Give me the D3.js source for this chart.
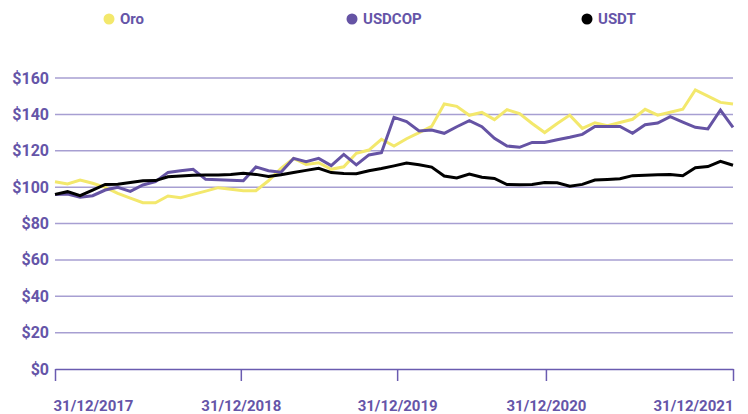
<!DOCTYPE html>
<html>
<head>
<meta charset="utf-8">
<script src="https://cdn.jsdelivr.net/npm/d3@7"></script>
<style>
  body { margin: 0; background: #fff; }
  #chart { width: 748px; height: 414px; }
  text { font-family: Roboto, "Noto Sans", sans-serif; font-weight: 700; }
</style>
</head>
<body>
<div id="chart"></div>
<script>
// Series names
const seriesNames = ["Oro", "USDCOP", "USDT"];

// Oro (gold)
const oro = [103.0, 101.7, 103.9, 102.1, 99.9, 96.6, 94.0, 91.4, 91.4, 95.1,
  94.2, 96.0, 97.8, 99.7, 98.8, 98.0, 98.0, 103.5, 110.3, 115.8,
  112.5, 113.4, 109.8, 111.2, 118.6, 120.4, 126.3, 122.6, 126.6, 130.0,
  133.4, 145.7, 144.4, 139.5, 141.1, 137.1, 142.6, 140.4, 135.0, 130.0,
  135.0, 139.6, 132.3, 135.4, 133.8, 135.5, 137.3, 142.8, 139.6, 141.2,
  142.8, 153.4, 150.0, 146.6, 145.7];

// USDCOP
const usdcop = [96.0, 96.2, 94.4, 95.3, 98.4, 99.9, 97.7, 101.2, 103.0, 108.1,
  109.0, 109.8, 104.3, 104.0, 103.8, 103.5, 111.1, 109.0, 108.2, 115.8,
  114.0, 115.8, 111.8, 118.0, 112.2, 117.7, 118.9, 138.4, 136.0, 130.9,
  131.4, 129.6, 133.2, 136.5, 133.2, 126.8, 122.6, 121.9, 124.6, 124.6,
  126.0, 127.4, 129.0, 133.4, 133.4, 133.4, 129.6, 134.3, 135.2, 138.7,
  135.8, 132.9, 132.0, 142.4, 132.9];

// USDT
const usdt = [96.0, 97.5, 95.3, 98.4, 101.5, 101.6, 102.6, 103.5, 103.6, 105.7,
  106.1, 106.5, 106.6, 106.7, 107.0, 107.6, 107.0, 105.8, 106.8, 108.0,
  109.2, 110.3, 108.0, 107.5, 107.4, 109.0, 110.2, 111.7, 113.2, 112.3,
  111.0, 106.1, 105.0, 107.2, 105.4, 104.8, 101.4, 101.3, 101.4, 102.5,
  102.4, 100.5, 101.5, 103.9, 104.2, 104.6, 106.3, 106.5, 106.8, 107.0,
  106.3, 110.7, 111.3, 114.2, 112.0];

// X tick labels and where they fall along the series (point index)
const xTickLabels = ["31/12/2017", "31/12/2018", "31/12/2019", "31/12/2020", "31/12/2021"];
const xTickIndex = [0, 14.8, 27.25, 39.1, 54];

// Y ticks
const yTicks = [0, 20, 40, 60, 80, 100, 120, 140, 160];

const COLORS = {
  Oro: '#f3e86c',
  USDCOP: '#6553a4',
  USDT: '#000000',
  text: '#6555a8',
  grid: '#a79fd2',
  axis: '#6a5bb0'
};

const width = 748, height = 414;
const margin = { top: 78, right: 15, bottom: 45, left: 55 };

const svg = d3.select("#chart").append("svg")
  .attr("width", width)
  .attr("height", height);

const x = d3.scaleLinear()
  .domain([0, oro.length - 1])
  .range([margin.left, width - margin.right]);

const y = d3.scaleLinear()
  .domain([0, 160])
  .range([height - margin.bottom, margin.top]);

// Gridlines
svg.append("g")
  .selectAll("line")
  .data(yTicks.filter(d => d > 0))
  .join("line")
  .attr("x1", x.range()[0]).attr("x2", x.range()[1])
  .attr("y1", d => y(d)).attr("y2", d => y(d))
  .attr("stroke", COLORS.grid)
  .attr("stroke-width", 1.5);

// Y labels
svg.append("g")
  .selectAll("text")
  .data(yTicks)
  .join("text")
  .attr("x", margin.left - 6)
  .attr("y", d => y(d))
  .attr("dy", "0.35em")
  .attr("text-anchor", "end")
  .attr("font-size", "16px")
  .attr("fill", COLORS.text)
  .text(d => "$" + d);

// X axis
const xAxis = svg.append("g")
  .attr("transform", `translate(0, ${y(0)})`)
  .call(d3.axisBottom(x)
    .tickValues(xTickIndex)
    .tickSize(12)
    .tickSizeOuter(0)
    .tickFormat((d, i) => xTickLabels[i]));

xAxis.select(".domain").attr("stroke", COLORS.axis).attr("stroke-width", 1.5);
xAxis.selectAll(".tick line").attr("stroke", COLORS.axis).attr("stroke-width", 1.5);
xAxis.selectAll(".tick text")
  .attr("y", 31)
  .attr("font-size", "15px")
  .attr("font-family", "Roboto, sans-serif")
  .attr("font-weight", 700)
  .attr("fill", COLORS.text)
  .attr("text-anchor", (d, i) => i === 0 ? "start" : (i === xTickIndex.length - 1 ? "end" : "middle"))
  .attr("dx", (d, i) => i === 0 ? -2 : 0);

// Lines
const line = d3.line()
  .x((d, i) => x(i))
  .y(d => y(d));

const seriesData = [
  { name: "Oro", values: oro },
  { name: "USDCOP", values: usdcop },
  { name: "USDT", values: usdt }
];

svg.append("g")
  .selectAll("path")
  .data(seriesData)
  .join("path")
  .attr("d", d => line(d.values))
  .attr("fill", "none")
  .attr("stroke", d => COLORS[d.name])
  .attr("stroke-width", 3)
  .attr("stroke-linejoin", "miter");

// Legend
const legendX = [109, 352, 587];
const legend = svg.append("g")
  .selectAll("g")
  .data(seriesNames)
  .join("g")
  .attr("transform", (d, i) => `translate(${legendX[i]}, 19)`);

legend.append("circle")
  .attr("r", 5.5)
  .attr("fill", d => COLORS[d]);

legend.append("text")
  .attr("x", 11)
  .attr("dy", "0.35em")
  .attr("font-size", "15px")
  .attr("fill", COLORS.text)
  .text(d => d);
</script>
</body>
</html>
